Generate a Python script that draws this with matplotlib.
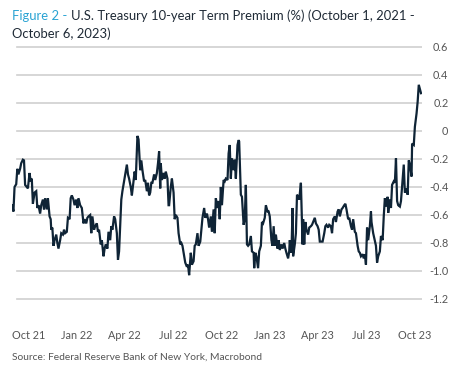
"""
Term premium du Trésor US à 10 ans (oct. 2021 - oct. 2023), reproduction du graphique.
"""

import matplotlib
matplotlib.use("Agg")
import matplotlib.pyplot as plt
import pandas as pd

START = pd.Timestamp("2021-10-01")

# Jours depuis le 1er octobre 2021, et valeur (%)
days = [
    0, 2, 4, 7, 9, 11, 14, 16, 19, 21, 23, 26, 28, 31, 33, 35, 37, 40, 43, 45,
    47, 50, 52, 55, 57, 59, 62, 64, 67, 69, 70, 72, 74, 76, 79, 81, 83, 86, 88, 91,
    93, 95, 98, 100, 103, 105, 107, 110, 112, 115, 117, 119,
    122, 125, 128, 130, 133, 135, 137, 140, 142, 144, 147, 149, 152, 154, 156, 159, 161, 164,
    166, 168, 171, 173, 176, 178, 180, 183, 185, 188, 190, 192, 194, 196, 198, 201, 203, 206,
    208, 210, 213, 215, 218, 220, 222, 225, 227, 230, 232, 234, 237, 239, 242, 244, 246,
    248, 250, 252, 255, 257, 260, 262, 264, 266, 267, 269, 272, 274, 276, 279, 281, 282, 285,
    287, 290, 292, 294, 297, 299, 302, 304, 306, 309, 311, 314, 316, 318, 321, 323, 326, 328,
    330, 333, 335, 338, 340, 342, 345, 347, 350, 352, 354, 357, 359, 362, 364, 366, 369, 371,
    373, 375, 377, 380, 382, 384, 387, 389, 391, 393, 395, 398, 400, 402, 405, 407, 408, 411,
    413, 416, 418, 420, 422, 424, 426, 429, 431, 434, 435, 437, 439, 442, 444, 447, 449, 451,
    454, 456, 459, 461, 463, 466, 468, 470, 472, 474, 477, 479, 481, 484, 486, 489, 491, 493,
    496, 498,
    499, 502, 504, 505, 508, 510, 512, 514, 516, 519, 522, 523, 525, 527, 529, 532, 534, 537,
    539, 541, 544, 546, 549, 551, 553, 556, 558, 561, 563, 565, 568, 570, 573, 575, 577, 580,
    582, 585, 587, 589, 592, 594, 597, 599, 601, 604, 606, 609, 611, 613, 616, 618, 621, 623,
    625, 627, 630, 632, 634, 636, 638, 640, 643, 645, 646, 649, 651, 654, 656, 658, 661, 663,
    666, 668, 670, 673, 675, 676, 679, 681, 683, 686, 688, 690, 692, 694, 697, 699, 701, 704,
    706, 709, 711, 713, 715, 718, 719, 722, 724, 727, 729, 731, 733, 735,
]
premium = [
    -0.53, -0.575, -0.40, -0.38, -0.27, -0.31, -0.27, -0.23, -0.205, -0.21, -0.385, -0.40, -0.41, -0.30, -0.36, -0.34, -0.52, -0.44, -0.43, -0.55,
    -0.53, -0.59, -0.53, -0.49, -0.56, -0.48, -0.56, -0.48, -0.61, -0.63, -0.705, -0.69, -0.82, -0.78, -0.74, -0.80, -0.84, -0.78, -0.73, -0.74,
    -0.705, -0.73, -0.72, -0.62, -0.63, -0.48, -0.46, -0.49, -0.53, -0.49, -0.55, -0.48,
    -0.53, -0.55, -0.66, -0.63, -0.66, -0.62, -0.61, -0.60, -0.73, -0.61, -0.705, -0.68, -0.66, -0.72, -0.705, -0.81, -0.78, -0.895,
    -0.84, -0.81, -0.84, -0.72, -0.78, -0.68, -0.705, -0.61, -0.63, -0.73, -0.92, -0.86, -0.68, -0.49, -0.43, -0.36, -0.31, -0.24,
    -0.31, -0.34, -0.40, -0.46, -0.36, -0.29, -0.35, -0.035, -0.06, -0.28, -0.21, -0.28, -0.36, -0.35, -0.43, -0.37, -0.46,
    -0.44, -0.37, -0.37, -0.31, -0.35, -0.30, -0.23, -0.145, -0.41, -0.23, -0.35, -0.30, -0.34, -0.29, -0.34, -0.53, -0.53, -0.40,
    -0.34, -0.44, -0.63, -0.60, -0.62, -0.73, -0.81, -0.80, -0.82, -0.895, -0.94, -0.97, -0.955, -1.03, -0.87, -0.955, -0.93, -0.82,
    -0.81, -0.73, -0.82, -0.79, -0.705, -0.62, -0.55, -0.62, -0.59, -0.63, -0.69, -0.61, -0.72, -0.56, -0.73, -0.48, -0.55, -0.50,
    -0.63, -0.40, -0.53, -0.35, -0.36, -0.34, -0.35, -0.16, -0.10, -0.34, -0.195, -0.28, -0.205, -0.34, -0.10, -0.065, -0.075, -0.455,
    -0.47, -0.67, -0.63, -0.385, -0.81, -0.82, -0.81, -0.75, -0.86, -0.87, -0.98, -0.87, -0.895, -0.98, -0.86, -0.82, -0.65, -0.66,
    -0.62, -0.53, -0.575, -0.575, -0.61, -0.78, -0.82, -0.68, -0.82, -0.74, -0.84, -0.78, -0.85, -0.81, -0.84, -0.80, -0.84, -0.87,
    -0.91, -0.86,
    -0.78, -0.87, -0.55, -0.895, -0.81, -0.73, -0.455, -0.47, -0.49, -0.37, -0.81, -0.63, -0.81, -0.65, -0.705, -0.74, -0.69, -0.68,
    -0.67, -0.65, -0.62, -0.66, -0.68, -0.705, -0.79, -0.79, -0.79, -0.73, -0.68, -0.67, -0.69, -0.67, -0.68, -0.73, -0.63, -0.61,
    -0.65, -0.575, -0.56, -0.61, -0.56, -0.55, -0.53, -0.52, -0.56, -0.63, -0.62, -0.68, -0.705, -0.63, -0.72, -0.73, -0.82, -0.86,
    -0.87, -0.895, -0.88, -0.91, -0.88, -0.955, -0.69, -0.78, -0.68, -0.575, -0.65, -0.73, -0.765, -0.82, -0.94, -0.895, -0.86, -0.75,
    -0.78, -0.61, -0.48, -0.54, -0.47, -0.585, -0.49, -0.55, -0.385, -0.36, -0.37, -0.195, -0.50, -0.53, -0.54, -0.50, -0.40, -0.24,
    -0.44, -0.41, -0.455, -0.21, -0.24, -0.325, -0.09, -0.10, 0.03, 0.125, 0.21, 0.33, 0.30, 0.27,
]

tick_dates = ["2021-10-30", "2022-01-24", "2022-04-21", "2022-07-17", "2022-10-12",
              "2023-01-07", "2023-04-03", "2023-06-30", "2023-09-24"]
tick_labels = ["Oct 21", "Jan 22", "Apr 22", "Jul 22", "Oct 22",
               "Jan 23", "Apr 23", "Jul 23", "Oct 23"]
y_ticks = [0.6, 0.4, 0.2, 0.0, -0.2, -0.4, -0.6, -0.8, -1.0, -1.2]

FONT = "Lato"
BLEU_TITRE = "#2aa3d3"
MARINE = "#0f2436"
GRIS = "#555555"

dates = START + pd.to_timedelta(days, unit="D")

fig = plt.figure(figsize=(4.61, 3.70), dpi=100)
ax = fig.add_axes([0.026, 0.1865, 0.8894, 0.6919])

# Grille horizontale (légèrement décalée à gauche comme l'original)
for v in y_ticks:
    ax.axhline(v, xmin=0.012, color="#cfcfcf", lw=1.2, zorder=0)

ax.plot(dates, premium, color=MARINE, lw=1.6, zorder=3, solid_joinstyle="miter")

ax.set_xlim(START - pd.Timedelta(days=0.6), START + pd.Timedelta(days=736.8))
ax.set_ylim(-1.2143, 0.6143)

for s in ax.spines.values():
    s.set_visible(False)

ax.set_xticks(pd.to_datetime(tick_dates))
ax.set_xticklabels(tick_labels, fontsize=7.8, color=GRIS, family=FONT)
ax.tick_params(axis="x", length=0, pad=21)

ax.yaxis.tick_right()
ax.set_yticks(y_ticks)
ax.set_yticklabels(["0" if v == 0 else f"{v:.1f}" for v in y_ticks],
                   fontsize=7.8, color=GRIS, family=FONT)
ax.tick_params(axis="y", length=0, pad=19)
for lab in ax.get_yticklabels():
    lab.set_horizontalalignment("right")

# Titre en deux couleurs
t1 = fig.text(12 / 461, 1 - 19.5 / 370, "Figure 2 - ", color=BLEU_TITRE,
              fontsize=9.4, family=FONT, va="baseline")
ax.annotate("U.S. Treasury 10-year Term Premium (%) (October 1, 2021 -",
            xy=(1, 0), xycoords=t1, va="bottom", color="#1f2a36",
            fontsize=9.4, family=FONT)
fig.text(12 / 461, 1 - 37.5 / 370, "October 6, 2023)", color="#1f2a36",
         fontsize=9.4, family=FONT, va="baseline")

fig.text(12 / 461, 1 - 360 / 370, "Source: Federal Reserve Bank of New York, Macrobond",
         color=GRIS, fontsize=7.4, family=FONT, va="baseline")

fig.savefig("out.png", dpi=100)
